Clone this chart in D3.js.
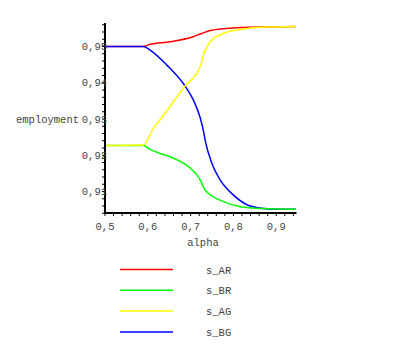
<!DOCTYPE html>
<html>
<head>
<meta charset="utf-8">
<script src="https://cdn.jsdelivr.net/npm/d3@7"></script>
<style>
  body { margin: 0; background: #fff; }
  text { font-family: "Liberation Mono", "DejaVu Sans Mono", monospace; font-size: 10.5px; fill: #444; }
</style>
</head>
<body>
<div id="chart"></div>
<script>
// values
const alphaAR = [0.5, 0.5896, 0.605, 0.652, 0.706, 0.726, 0.746, 0.799, 0.839, 0.946];
const valAR   = [0.95, 0.95, 0.9506, 0.9513, 0.9527, 0.9536, 0.9544, 0.9551, 0.9553, 0.9555];

const alphaBR = [0.5, 0.5896, 0.6053, 0.6287, 0.652, 0.6832, 0.6988, 0.7145, 0.7222, 0.7339, 0.7416, 0.7767, 0.8158, 0.8703, 0.946];
const valBR   = [0.9227, 0.9227, 0.9216, 0.9205, 0.9196, 0.9178, 0.9165, 0.9146, 0.9132, 0.9104, 0.9095, 0.9072, 0.9058, 0.9053, 0.9051];

const alphaAG = [0.5, 0.5896, 0.613, 0.6287, 0.6871, 0.7222, 0.7339, 0.7496, 0.776, 0.8158, 0.8626, 0.946];
const valAG   = [0.9227, 0.9228, 0.9274, 0.9298, 0.9391, 0.9444, 0.949, 0.9518, 0.9536, 0.9547, 0.9553, 0.9555];

const alphaBG = [0.5, 0.5896, 0.6053, 0.6443, 0.6871, 0.7066, 0.7222, 0.73, 0.7339, 0.7496, 0.769, 0.8001, 0.8392, 0.8813, 0.946];
const valBG   = [0.95, 0.95, 0.949, 0.9449, 0.9391, 0.9352, 0.9304, 0.9267, 0.9242, 0.9178, 0.9132, 0.909, 0.906, 0.9052, 0.9051];

const seriesNames  = ["s_AR", "s_BR", "s_AG", "s_BG"];
const seriesColors = ["#ff0000", "#00ff00", "#ffff00", "#0000ff"];
const xTickVals = [0.5, 0.6, 0.7, 0.8, 0.9];
const xTickText = ["0,5", "0,6", "0,7", "0,8", "0,9"];
const yTickVals = [0.91, 0.92, 0.93, 0.94, 0.95];
const yTickText = ["0,91", "0,92", "0,93", "0,94", "0,95"];

const width = 401, height = 346;

const svg = d3.select("#chart").append("svg")
    .attr("width", width)
    .attr("height", height);

const x = d3.scaleLinear().domain([0.5, 0.945]).range([105, 295.5]);
const y = d3.scaleLinear().domain([0.95, 0.91]).range([46.5, 191.5]);
const yTop = 23, yBot = 213;

const series = [
    { name: seriesNames[0], color: seriesColors[0], a: alphaAR, v: valAR },
    { name: seriesNames[1], color: seriesColors[1], a: alphaBR, v: valBR },
    { name: seriesNames[2], color: seriesColors[2], a: alphaAG, v: valAG },
    { name: seriesNames[3], color: seriesColors[3], a: alphaBG, v: valBG }
];

const line = d3.line()
    .x(d => x(d[0]))
    .y(d => y(d[1]))
    .curve(d3.curveMonotoneX);

// drawing order so the right curve ends up on top
[0, 3, 1, 2].forEach(i => {
    const s = series[i];
    svg.append("path")
        .datum(s.a.map((a, j) => [a, s.v[j]]))
        .attr("d", line)
        .attr("fill", "none")
        .attr("stroke", s.color)
        .attr("stroke-width", 1.5);
});

// minor ticks
const yMinor = d3.range(0.904, 0.9565, 0.002);
svg.append("g").selectAll("line")
    .data(yMinor)
    .enter().append("line")
    .attr("x1", 102).attr("x2", 105)
    .attr("y1", d => y(d)).attr("y2", d => y(d))
    .attr("stroke", "#000");

const xMinor = d3.range(0.5, 0.946, 0.02);
svg.append("g").selectAll("line")
    .data(xMinor)
    .enter().append("line")
    .attr("x1", d => x(d)).attr("x2", d => x(d))
    .attr("y1", yBot).attr("y2", yBot + 3)
    .attr("stroke", "#000");

// axes
svg.append("line")
    .attr("x1", 105).attr("x2", 105)
    .attr("y1", yTop).attr("y2", yBot + 1)
    .attr("stroke", "#000").attr("stroke-width", 2);
svg.append("line")
    .attr("x1", 104).attr("x2", x(0.945) + 1)
    .attr("y1", yBot).attr("y2", yBot)
    .attr("stroke", "#000").attr("stroke-width", 2);

// tick labels
svg.append("g").selectAll("text")
    .data(yTickVals)
    .enter().append("text")
    .attr("x", 107)
    .attr("y", d => y(d) + 3.5)
    .attr("text-anchor", "end")
    .text((d, i) => yTickText[i]);

svg.append("g").selectAll("text")
    .data(xTickVals)
    .enter().append("text")
    .attr("x", d => x(d))
    .attr("y", 230)
    .attr("text-anchor", "middle")
    .text((d, i) => xTickText[i]);

// axis titles
svg.append("text").attr("x", 16).attr("y", 123).text("employment");
svg.append("text").attr("x", 203).attr("y", 246).attr("text-anchor", "middle").text("alpha");

// legend
const legend = svg.append("g").selectAll("g")
    .data(series)
    .enter().append("g")
    .attr("transform", (d, i) => `translate(0, ${269.5 + i * 20.8})`);
legend.append("line")
    .attr("x1", 120).attr("x2", 173)
    .attr("stroke", d => d.color)
    .attr("stroke-width", 1.5);
legend.append("text")
    .attr("x", 206).attr("y", 4)
    .text(d => d.name);
</script>
</body>
</html>
